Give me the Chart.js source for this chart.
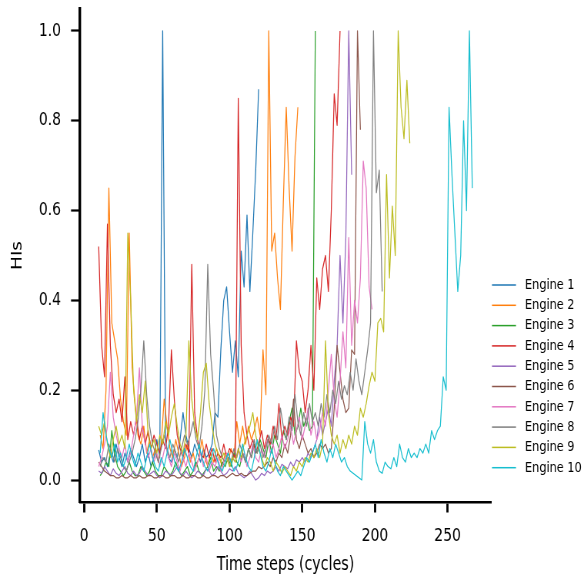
<!DOCTYPE html>
<html>
<head>
<meta charset="utf-8">
<script src="https://cdn.jsdelivr.net/npm/chart.js@4.4.1/dist/chart.umd.min.js"></script>
<style>
  html, body { margin: 0; padding: 0; background: #fff; }
  canvas { display: block; }
</style>
</head>
<body>
<canvas id="chart"></canvas>
<script>
// one value every 2 cycles, starting at the engine's first cycle
const engineNames = ['Engine 1', 'Engine 2', 'Engine 3', 'Engine 4', 'Engine 5',
                     'Engine 6', 'Engine 7', 'Engine 8', 'Engine 9', 'Engine 10'];
const engineStarts = [10, 11, 11, 10, 10, 10, 10, 11, 10, 11];
const cycleStep = 2;

const engine1 = [0.067,0.04,0.05,0.03,0.06,0.04,0.08,0.05,0.03,0.06,
  0.04,0.07,0.05,0.03,0.05,0.08,0.04,0.06,0.03,0.05,
  0.09,0.05,1.0,0.08,0.05,0.04,0.07,0.05,0.09,0.15,
  0.10,0.07,0.05,0.08,0.06,0.04,0.07,0.05,0.06,0.08,
  0.15,0.14,0.29,0.40,0.43,0.33,0.24,0.31,0.23,0.51,
  0.43,0.59,0.42,0.55,0.69,0.87];
const engine2 = [0.10,0.07,0.20,0.65,0.35,0.31,0.27,0.18,0.13,0.10,
  0.55,0.25,0.17,0.10,0.08,0.12,0.06,0.09,0.05,0.07,
  0.04,0.08,0.18,0.12,0.07,0.05,0.09,0.06,0.03,0.05,
  0.08,0.04,0.06,0.03,0.05,0.09,0.05,0.03,0.06,0.04,
  0.07,0.05,0.03,0.06,0.04,0.07,0.05,0.13,0.08,0.12,
  0.08,0.12,0.09,0.11,0.14,0.10,0.29,0.19,1.0,0.51,
  0.55,0.45,0.38,0.62,0.83,0.65,0.51,0.72,0.83];
const engine3 = [0.01,0.02,0.04,0.03,0.11,0.06,0.03,0.02,0.01,0.02,
  0.04,0.02,0.01,0.01,0.03,0.02,0.01,0.02,0.04,0.02,
  0.01,0.01,0.03,0.02,0.01,0.02,0.04,0.02,0.01,0.02,
  0.03,0.01,0.02,0.04,0.02,0.01,0.02,0.03,0.05,0.02,
  0.03,0.02,0.04,0.03,0.05,0.03,0.06,0.04,0.03,0.06,
  0.04,0.07,0.05,0.08,0.06,0.09,0.07,0.05,0.09,0.06,
  0.10,0.08,0.06,0.11,0.09,0.13,0.16,0.10,0.12,0.16,
  0.12,0.14,0.11,0.12,1.0];
const engine4 = [0.52,0.30,0.23,0.57,0.30,0.19,0.15,0.18,0.13,0.23,
  0.09,0.13,0.10,0.14,0.09,0.12,0.08,0.11,0.07,0.10,
  0.08,0.06,0.09,0.07,0.12,0.29,0.18,0.10,0.07,0.05,
  0.08,0.06,0.48,0.15,0.09,0.06,0.05,0.08,0.05,0.07,
  0.04,0.06,0.05,0.08,0.05,0.07,0.06,0.05,0.85,0.30,
  0.15,0.10,0.07,0.09,0.06,0.08,0.11,0.07,0.10,0.08,
  0.12,0.09,0.17,0.09,0.12,0.10,0.14,0.12,0.31,0.24,
  0.22,0.15,0.20,0.30,0.20,0.45,0.38,0.47,0.50,0.42,
  0.60,0.86,0.79,1.0];
const engine5 = [0.02,0.015,0.03,0.02,0.01,0.025,0.015,0.01,0.02,0.03,
  0.015,0.01,0.02,0.01,0.015,0.03,0.02,0.01,0.015,0.02,
  0.01,0.005,0.01,0.02,0.015,0.01,0.02,0.03,0.015,0.01,
  0.02,0.01,0.005,0.01,0.02,0.015,0.01,0.025,0.02,0.01,
  0.015,0.03,0.02,0.01,0.015,0.025,0.02,0.03,0.015,0.01,
  0.005,0.01,0.02,0.01,0.0,0.005,0.015,0.01,0.02,0.015,
  0.02,0.03,0.02,0.035,0.03,0.025,0.04,0.03,0.045,0.04,
  0.05,0.04,0.06,0.05,0.07,0.09,0.14,0.10,0.13,0.16,
  0.12,0.22,0.30,0.50,0.35,0.54,1.0,0.68];
const engine6 = [0.04,0.03,0.02,0.015,0.01,0.01,0.005,0.005,0.01,0.005,
  0.005,0.01,0.005,0.005,0.01,0.005,0.005,0.01,0.01,0.005,
  0.005,0.01,0.01,0.005,0.005,0.01,0.01,0.005,0.005,0.01,
  0.005,0.005,0.01,0.01,0.005,0.005,0.01,0.005,0.005,0.01,
  0.01,0.005,0.01,0.01,0.005,0.01,0.015,0.01,0.01,0.015,
  0.01,0.01,0.015,0.02,0.02,0.03,0.025,0.03,0.04,0.03,
  0.05,0.04,0.06,0.05,0.08,0.06,0.10,0.18,0.09,0.07,
  0.10,0.08,0.06,0.07,0.05,0.06,0.08,0.07,0.08,0.06,
  0.07,0.16,0.30,0.24,0.18,0.15,0.16,0.29,0.28,1.0,
  0.78];
const engine7 = [0.03,0.05,0.08,0.12,0.24,0.14,0.10,0.07,0.05,0.08,
  0.04,0.06,0.10,0.14,0.25,0.12,0.08,0.05,0.07,0.04,
  0.06,0.03,0.05,0.08,0.05,0.03,0.06,0.04,0.02,0.05,
  0.03,0.06,0.04,0.02,0.04,0.06,0.03,0.05,0.02,0.04,
  0.03,0.05,0.02,0.04,0.06,0.03,0.05,0.04,0.07,0.04,
  0.06,0.03,0.05,0.08,0.05,0.04,0.07,0.05,0.09,0.06,
  0.08,0.05,0.07,0.10,0.07,0.09,0.12,0.08,0.11,0.14,
  0.09,0.12,0.16,0.10,0.13,0.09,0.11,0.15,0.12,0.20,
  0.28,0.18,0.14,0.22,0.33,0.25,0.54,0.30,0.40,0.35,
  0.45,0.71,0.65,0.43,0.38];
const engine8 = [0.03,0.05,0.04,0.08,0.06,0.04,0.07,0.05,0.03,0.02,
  0.04,0.06,0.09,0.13,0.20,0.31,0.19,0.12,0.08,0.06,
  0.04,0.07,0.10,0.07,0.05,0.08,0.06,0.04,0.07,0.10,
  0.08,0.10,0.13,0.09,0.07,0.12,0.20,0.48,0.28,0.20,
  0.10,0.07,0.05,0.04,0.06,0.04,0.07,0.05,0.08,0.06,
  0.04,0.07,0.05,0.09,0.06,0.08,0.05,0.07,0.10,0.08,
  0.12,0.09,0.16,0.12,0.09,0.14,0.11,0.19,0.13,0.10,
  0.15,0.12,0.17,0.13,0.15,0.12,0.17,0.14,0.19,0.15,
  0.20,0.17,0.22,0.18,0.21,0.19,0.24,0.20,0.27,0.22,
  0.19,0.24,0.29,0.35,1.0,0.64,0.69,0.42];
const engine9 = [0.12,0.10,0.13,0.08,0.05,0.09,0.12,0.08,0.10,0.07,
  0.55,0.40,0.20,0.13,0.19,0.15,0.22,0.10,0.07,0.09,
  0.06,0.10,0.08,0.13,0.10,0.14,0.17,0.12,0.08,0.06,
  0.10,0.31,0.18,0.12,0.09,0.15,0.24,0.26,0.17,0.12,
  0.08,0.06,0.04,0.06,0.05,0.03,0.05,0.04,0.07,0.05,
  0.08,0.10,0.12,0.15,0.10,0.07,0.05,0.03,0.05,0.04,
  0.02,0.04,0.03,0.015,0.03,0.02,0.01,0.03,0.02,0.04,
  0.03,0.05,0.04,0.06,0.05,0.07,0.05,0.08,0.31,0.15,
  0.10,0.08,0.10,0.06,0.09,0.07,0.10,0.08,0.12,0.10,
  0.16,0.14,0.17,0.21,0.24,0.22,0.35,0.36,0.33,0.68,
  0.45,0.61,0.50,1.0,0.83,0.76,0.89,0.75];
const engine10 = [0.06,0.15,0.10,0.07,0.05,0.08,0.04,0.06,0.03,0.05,
  0.08,0.05,0.03,0.06,0.04,0.02,0.05,0.08,0.05,0.03,
  0.02,0.05,0.03,0.06,0.09,0.06,0.03,0.02,0.04,0.07,
  0.05,0.03,0.02,0.05,0.08,0.05,0.03,0.02,0.04,0.07,
  0.05,0.03,0.02,0.04,0.06,0.04,0.02,0.03,0.05,0.08,
  0.05,0.03,0.02,0.05,0.09,0.06,0.03,0.02,0.04,0.07,
  0.04,0.02,0.01,0.03,0.02,0.01,0.0,0.01,0.02,0.01,
  0.03,0.05,0.04,0.06,0.08,0.05,0.09,0.06,0.04,0.07,
  0.05,0.08,0.06,0.04,0.05,0.03,0.02,0.015,0.01,0.005,
  0.0,0.13,0.08,0.06,0.09,0.04,0.02,0.015,0.04,0.03,
  0.025,0.05,0.03,0.08,0.05,0.04,0.07,0.05,0.06,0.05,
  0.07,0.06,0.08,0.06,0.11,0.09,0.11,0.12,0.23,0.20,
  0.83,0.68,0.55,0.42,0.50,0.80,0.60,1.0,0.65];

const xTicks = [0, 50, 100, 150, 200, 250];
const yTicks = [0, 0.2, 0.4, 0.6, 0.8, 1.0];
const xRange = [-2.85, 279.85];
const yRange = [-0.05, 1.05];

const engineValues = [engine1, engine2, engine3, engine4, engine5,
                      engine6, engine7, engine8, engine9, engine10];
const palette = ['#1f77b4', '#ff7f0e', '#2ca02c', '#d62728', '#9467bd',
                 '#8c564b', '#e377c2', '#7f7f7f', '#bcbd22', '#17becf'];

const FONT = "'DejaVu Sans', sans-serif";

// the picture is horizontally squeezed: draw wide, show at 584px
const SQ = 1.3;
const canvas = document.getElementById('chart');
canvas.width = Math.round(584 * SQ);
canvas.height = 578;
canvas.style.width = '584px';
canvas.style.height = '578px';

const datasets = engineValues.map((vals, k) => ({
  label: engineNames[k],
  data: vals.map((v, i) => ({ x: engineStarts[k] + i * cycleStep, y: v })),
  borderColor: palette[k],
  borderWidth: 1.25,
  borderJoinStyle: 'round',
  pointRadius: 0,
  tension: 0,
  fill: false,
  order: engineValues.length - 1 - k   // later engines on top, like matplotlib
}));

// legend outside the axes on the right
const sideLegend = {
  id: 'sideLegend',
  afterDraw(chart) {
    const ctx = chart.ctx;
    const left = chart.chartArea.right + 1 * SQ;
    ctx.save();
    ctx.font = (11.3 * SQ).toFixed(2) + 'px ' + FONT;
    ctx.textBaseline = 'middle';
    ctx.textAlign = 'left';
    chart.data.datasets.forEach((ds, i) => {
      const y = 285 + i * 20.3;
      ctx.strokeStyle = ds.borderColor;
      ctx.lineWidth = 1.5;
      ctx.beginPath();
      ctx.moveTo(left, y);
      ctx.lineTo(left + 24 * SQ, y);
      ctx.stroke();
      ctx.fillStyle = '#000';
      ctx.fillText(ds.label, left + 33 * SQ, y);
    });
    ctx.restore();
  }
};

// keep Chart.js from reserving room for edge labels
const noScalePadding = s => {
  s.paddingTop = 0; s.paddingBottom = 0; s.paddingLeft = 0; s.paddingRight = 0;
};

const tickFont = { family: FONT, size: 14 * SQ };
const titleFont = { family: FONT, size: 14.25 * SQ };

new Chart(canvas, {
  type: 'line',
  data: { datasets },
  options: {
    responsive: false,
    animation: false,
    events: [],
    layout: { padding: { left: 0, right: 93 * SQ, top: 8.5, bottom: 0 } },
    plugins: { legend: { display: false }, tooltip: { enabled: false } },
    scales: {
      x: {
        type: 'linear',
        min: xRange[0],
        max: xRange[1],
        afterBuildTicks: s => { s.ticks = xTicks.map(v => ({ value: v })); },
        afterFit: s => { s.height = 75.5; noScalePadding(s); },
        grid: { display: true, drawOnChartArea: false, drawTicks: true,
                tickColor: '#000', tickWidth: 2.2 * SQ, tickLength: 10 },
        border: { display: true, color: '#000', width: 2.6 },
        ticks: {
          color: '#000', padding: 12.5, maxRotation: 0, autoSkip: false,
          font: tickFont,
          callback: v => String(v)
        },
        title: {
          display: true, text: 'Time steps (cycles)', color: '#000',
          font: titleFont,
          padding: { top: 0, bottom: 1.5 }
        }
      },
      y: {
        type: 'linear',
        min: yRange[0],
        max: yRange[1],
        afterBuildTicks: s => { s.ticks = yTicks.map(v => ({ value: v })); },
        afterFit: s => { s.width = 80 * SQ; noScalePadding(s); },
        grid: { display: true, drawOnChartArea: false, drawTicks: true,
                tickColor: '#000', tickWidth: 2.2, tickLength: 9 * SQ },
        border: { display: true, color: '#000', width: 2.6 * SQ },
        ticks: {
          color: '#000', padding: 13, autoSkip: false,
          font: tickFont,
          callback: v => v.toFixed(1)
        },
        title: {
          display: true, text: 'HIs', color: '#000',
          font: titleFont,
          padding: { top: 12.3, bottom: 0 }
        }
      }
    }
  },
  plugins: [sideLegend]
});
</script>
</body>
</html>
